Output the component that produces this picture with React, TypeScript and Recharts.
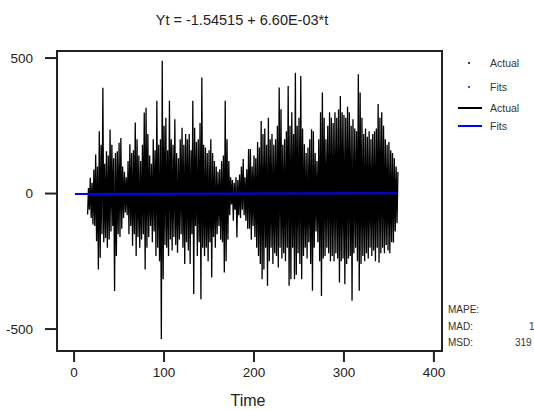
import React from "react";
import { LineChart, Line, XAxis, YAxis, ReferenceArea } from "recharts";

// Time index of the first Actual observation
const actualStartT = 15;

// Actual series values, t = 15 .. 360
const actualValues: number[] = [
  -77, 20, -60, 58, -90, 40, -114, 89, -120, 144,
  -176, 100, -280, 230, -237, 180, -150, 390, -180, 110,
  -164, 156, -200, 140, -170, 236, -140, 180, -120, 130,
  -360, 150, -230, 156, -150, 187, -160, 205, -130, 100,
  -90, 80, -70, 60, -80, 120, -150, 182, -120, 150,
  -193, 160, -150, 262, -230, 200, -160, 140, -200, 120,
  -170, 180, -150, 299, -280, 317, -200, 220, -160, 140,
  -120, 110, -180, 200, -140, 160, -230, 342, -200, 180,
  -250, 200, -537, 490, -316, 250, -190, 280, -200, 160,
  -230, 342, -170, 200, -210, 180, -160, 274, -190, 150,
  -218, 130, -170, 200, -150, 243, -200, 180, -260, 220,
  -180, 200, -210, 220, -260, 160, -150, 342, -371, 243,
  -120, 190, -230, 200, -180, 260, -390, 428, -200, 180,
  -230, 170, -200, 150, -250, 160, -180, 200, -310, 150,
  -160, 120, -200, 100, -150, 80, -120, 90, -170, 120,
  -180, 140, -291, 342, -250, 200, -170, 120, -80, 60,
  -40, 50, -100, 40, -60, 60, -162, 50, -80, 70,
  -90, 100, -60, 127, -80, 60, -100, 90, -130, 164,
  -130, 164, -170, 100, -120, 140, -160, 130, -200, 190,
  -230, 170, -260, 268, -316, 220, -280, 240, -200, 180,
  -340, 280, -250, 200, -200, 220, -260, 180, -220, 200,
  -230, 250, -273, 391, -200, 311, -240, 180, -220, 200,
  -250, 230, -200, 397, -340, 250, -316, 300, -200, 220,
  -316, 446, -300, 250, -220, 280, -260, 434, -316, 240,
  -230, 182, -200, 150, -240, 170, -180, 200, -260, 237,
  -359, 230, -200, 150, -140, 120, -180, 200, -250, 300,
  -378, 373, -240, 280, -230, 200, -200, 250, -220, 300,
  -250, 280, -230, 260, -250, 300, -220, 280, -240, 310,
  -328, 360, -250, 300, -240, 290, -335, 280, -260, 320,
  -240, 300, -230, 250, -396, 274, -220, 240, -200, 230,
  -250, 440, -359, 373, -260, 280, -230, 220, -250, 240,
  -220, 210, -240, 230, -200, 200, -230, 220, -210, 230,
  -250, 240, -200, 330, -255, 280, -220, 300, -200, 250,
  -220, 200, -190, 180, -210, 190, -220, 160, -180, 150,
  -181, 130, -140, 100, -110, 80,
];

// Fitted trend line end points
const fitsT: number[] = [1, 360];
const fitsValues: number[] = [-1.54, 0.83];

const xTicks: number[] = [0, 100, 200, 300, 400];
const yTicks: number[] = [-500, 0, 500];

const titleText = "Yt = -1.54515 + 6.60E-03*t";
const legendLabels: string[] = ["Actual", "Fits", "Actual", "Fits"];
const statLabels: string[] = ["MAPE:", "MAD:", "MSD:"];
const statValues: string[] = ["", "1", "319"];

const actualData = actualValues.map((v, i) => ({ t: actualStartT + i, v }));
const fitsData = fitsT.map((t, i) => ({ t, v: fitsValues[i] }));

const FONT = "'Liberation Sans', Arial, sans-serif";
const X_DOMAIN: [number, number] = [-19, 409];
const Y_DOMAIN: [number, number] = [-581, 526];

export default function App() {
  return (
    <div style={{ position: "absolute", left: 0, top: 0, width: 534, height: 410, background: "#fff" }}>
      <LineChart
        width={534}
        height={410}
        margin={{ top: 51, right: 92, bottom: 0, left: 0 }}
        style={{ fontFamily: FONT }}
      >
        <XAxis
          type="number"
          dataKey="t"
          domain={X_DOMAIN}
          ticks={xTicks}
          allowDataOverflow
          height={59}
          axisLine={false}
          tickSize={11}
          tickMargin={5}
          tickLine={{ stroke: "#222", strokeWidth: 2 }}
          tick={{ fill: "#222", fontSize: 13.5, fontFamily: FONT }}
        />
        <YAxis
          type="number"
          domain={Y_DOMAIN}
          ticks={yTicks}
          allowDataOverflow
          width={57}
          axisLine={false}
          tickSize={12}
          tickMargin={12}
          tickLine={{ stroke: "#222", strokeWidth: 2 }}
          tick={{ fill: "#222", fontSize: 13.5, fontFamily: FONT }}
        />
        <ReferenceArea
          x1={X_DOMAIN[0]}
          x2={X_DOMAIN[1]}
          y1={Y_DOMAIN[0]}
          y2={Y_DOMAIN[1]}
          fill="none"
          stroke="#222"
          strokeWidth={2}
        />
        <Line
          data={actualData}
          dataKey="v"
          type="linear"
          stroke="#000"
          strokeWidth={1.3}
          dot={false}
          activeDot={false}
          isAnimationActive={false}
        />
        <Line
          data={fitsData}
          dataKey="v"
          type="linear"
          stroke="#0000ff"
          strokeWidth={2}
          dot={false}
          activeDot={false}
          isAnimationActive={false}
        />
      </LineChart>
      <svg
        width={534}
        height={410}
        style={{ position: "absolute", left: 0, top: 0, pointerEvents: "none" }}
        fontFamily={FONT}
      >
        <text x={242} y={25} textAnchor="middle" fontSize={14.5} fill="#222">
          {titleText}
        </text>
        <text x={248} y={406} textAnchor="middle" fontSize={16} fill="#222">
          Time
        </text>
        <circle cx={469} cy={63} r={1} fill="#000" />
        <circle cx={469} cy={87} r={1} fill="#0000ff" />
        <line x1={458} x2={482} y1={108} y2={108} stroke="#000" strokeWidth={2} />
        <line x1={458} x2={482} y1={126} y2={126} stroke="#0000ff" strokeWidth={2} />
        {legendLabels.map((s, i) => (
          <text key={i} x={490} y={[63, 87, 108, 126][i] + 4} fontSize={10.5} fill="#333">
            {s}
          </text>
        ))}
        {statLabels.map((s, i) => (
          <text key={s} x={448} y={[309, 326, 342][i] + 4} fontSize={10} fill="#333">
            {s}
          </text>
        ))}
        <text x={529} y={330} fontSize={10} fill="#333">{statValues[1]}</text>
        <text x={515} y={346} fontSize={10} fill="#333">{statValues[2]}</text>
      </svg>
    </div>
  );
}
